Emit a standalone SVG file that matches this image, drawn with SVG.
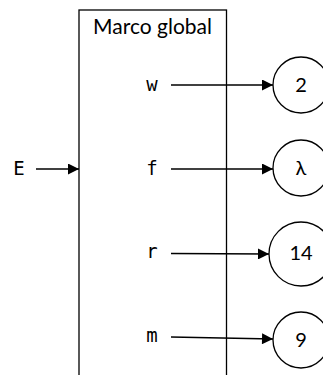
<svg xmlns="http://www.w3.org/2000/svg" width="323" height="375" viewBox="0 0 323 375">
<style>
.ln{stroke:#000;stroke-width:1.3;fill:none}
.nd{stroke:#000;stroke-width:1.3;fill:#fff}
.lb{font-family:"DejaVu Sans Mono",monospace;font-size:19px;fill:#000;text-anchor:middle}
.tx{font-family:Lato,"Liberation Sans",sans-serif;font-size:20px;fill:#000;text-anchor:middle}
</style>
<defs>
<marker id="ah" viewBox="0 0 10 10" refX="10" refY="5" markerWidth="16" markerHeight="11" markerUnits="userSpaceOnUse" orient="auto">
<path d="M0,0 L10,5 L0,10 Z" fill="#000"/>
</marker>
</defs>
<g id="frame">
<rect x="79" y="10" width="147.5" height="380" class="ln"/>
<text x="152.5" y="34" class="tx" style="font-size:21px">Marco global</text>
</g>
<g id="vars">
<text x="152" y="91" class="lb">w</text>
<text x="152" y="175" class="lb">f</text>
<text x="152" y="258" class="lb">r</text>
<text x="152" y="342" class="lb">m</text>
<text x="19" y="175" class="lb">E</text>
</g>
<g id="n2"><circle cx="301" cy="85" r="28" class="nd"/><text x="301" y="92" class="tx">2</text></g>
<g id="nlambda"><circle cx="301" cy="168" r="28" class="nd"/><text x="301" y="175" class="tx">λ</text></g>
<g id="n14"><circle cx="301" cy="254" r="32" class="nd"/><text x="301" y="260" class="tx">14</text></g>
<g id="n9"><circle cx="301" cy="340" r="28" class="nd"/><text x="301" y="347" class="tx">9</text></g>
<g id="connectors">
<line x1="36" y1="169" x2="79" y2="169" class="ln" marker-end="url(#ah)"/>
<line x1="171" y1="85" x2="273" y2="85" class="ln" marker-end="url(#ah)"/>
<line x1="171" y1="169" x2="273" y2="169" class="ln" marker-end="url(#ah)"/>
<line x1="171" y1="253.5" x2="269" y2="254" class="ln" marker-end="url(#ah)"/>
<line x1="171" y1="337" x2="273" y2="339" class="ln" marker-end="url(#ah)"/>
</g>
</svg>
